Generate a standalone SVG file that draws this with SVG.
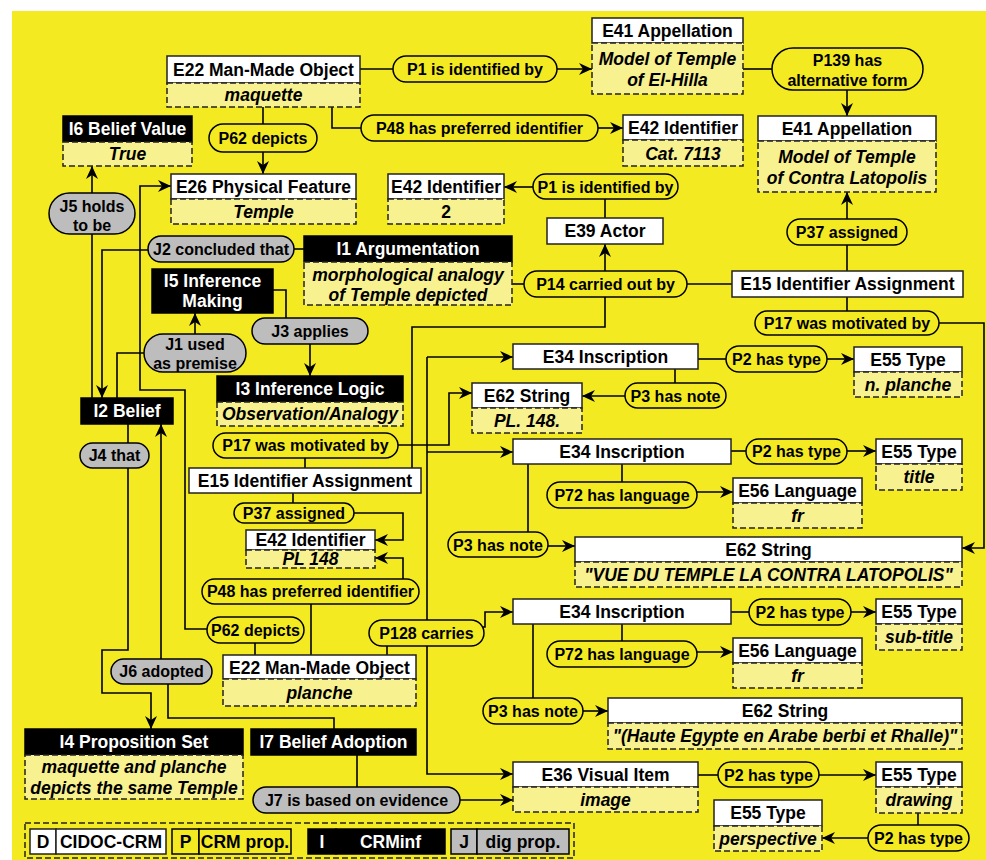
<svg xmlns="http://www.w3.org/2000/svg" width="986" height="860" viewBox="0 0 986 860">
<defs>
<marker id="ah" markerUnits="userSpaceOnUse" markerWidth="14" markerHeight="12" refX="13" refY="6" orient="auto">
<path d="M0,0 L13,6 L0,12 L4,6 z" fill="#000"/>
</marker>
<style>
.bg{fill:#F4EA22}
.h{fill:#fff;stroke:#222;stroke-width:1.5}
.k{fill:#000;stroke:#000;stroke-width:1.5}
.v{fill:#F8F190;stroke:#222;stroke-width:1.5;stroke-dasharray:6,3}
.p{fill:#F4EA22;stroke:#000;stroke-width:1.5}
.j{fill:#BDBDBD;stroke:#000;stroke-width:1.5}
.c path{fill:none;stroke:#000;stroke-width:1.6}
.a{marker-end:url(#ah)}
text{font-family:"Liberation Sans",Arial,sans-serif;font-weight:bold;font-size:16px;text-anchor:middle;fill:#000}
.n text{font-size:17.5px}
.i{font-style:italic}
.w{fill:#fff}
</style>
</defs>
<rect x="12" y="11" width="974" height="849" class="bg"/>

<g id="connectors" class="c">
<path d="M360,69 H393"/>
<path class="a" d="M557,69 H592"/>
<path d="M332,107 V128 H361"/>
<path class="a" d="M598,128 H623"/>
<path d="M263,107 V124"/>
<path class="a" d="M263,152 V174"/>
<path d="M743,69 H772"/>
<path class="a" d="M847,90 V116"/>
<path class="a" d="M533,187 H504"/>
<path d="M605,199 V218"/>
<path class="a" d="M605,271 V244"/>
<path d="M512,284 H524"/>
<path d="M687,284 H732"/>
<path d="M847,271 V245"/>
<path class="a" d="M847,219 V192"/>
<path d="M847,297 V311"/>
<path class="a" d="M939,323 H984 V548 H962"/>
<path d="M294,249 H304"/>
<path class="a" d="M148,250 H102 V398"/>
<path d="M92,398 V234"/>
<path class="a" d="M92,193 V166"/>
<path d="M117,398 V353 H144"/>
<path class="a" d="M195,334 V313"/>
<path d="M273,290 H286 V318"/>
<path class="a" d="M310,344 V376"/>
<path class="a" d="M207,629 H185 V390 H140 V186 H171"/>
<path d="M128,424 V443"/>
<path class="a" d="M128,468 V650 H102 V693 H151 V729"/>
<path class="a" d="M161,659 V424"/>
<path d="M168,684 V718 H334 V729"/>
<path d="M357,755 V787"/>
<path class="a" d="M460,800 H513"/>
<path d="M605,297 V327 H412 V468"/>
<path d="M305,468 V458"/>
<path class="a" d="M398,445 H449 V393 H472"/>
<path d="M427,620 V357"/>
<path class="a" d="M427,357 H513"/>
<path class="a" d="M427,452 H513"/>
<path class="a" d="M427,646 V774 H513"/>
<path class="a" d="M482,627 H485 V612 H513"/>
<path d="M387,655 V646"/>
<path d="M293,493 V503"/>
<path class="a" d="M354,513 H403 V540 H375"/>
<path class="a" d="M403,579 V558 H375"/>
<path d="M311,604 V655"/>
<path d="M255,643 V655"/>
<path d="M698,359 H726"/>
<path class="a" d="M827,359 H854"/>
<path d="M675,369 V383"/>
<path class="a" d="M625,396 H582"/>
<path d="M731,451 H746"/>
<path class="a" d="M847,451 H876"/>
<path d="M622,464 V482"/>
<path class="a" d="M697,492 H733"/>
<path d="M528,464 V532"/>
<path class="a" d="M548,546 H575"/>
<path d="M731,612 H749"/>
<path class="a" d="M851,612 H876"/>
<path d="M622,624 V641"/>
<path class="a" d="M697,652 H733"/>
<path d="M533,624 V698"/>
<path class="a" d="M583,711 H608"/>
<path d="M698,775 H718"/>
<path class="a" d="M819,775 H876"/>
<path d="M918,813 V825"/>
<path class="a" d="M868,838 H822"/>
</g>

<!-- CIDOC nodes -->
<g id="E22a" class="n"><rect class="h" x="167" y="56" width="193" height="27"/><rect class="v" x="167" y="83" width="193" height="24"/><text x="263.5" y="76">E22 Man-Made Object</text><text class="i" x="263.5" y="101">maquette</text></g>
<g id="E26" class="n"><rect class="h" x="171" y="174" width="185" height="25"/><rect class="v" x="171" y="199" width="185" height="25"/><text x="263.5" y="193">E26 Physical Feature</text><text class="i" x="263.5" y="218">Temple</text></g>
<g id="E41a" class="n"><rect class="h" x="592" y="18" width="151" height="25"/><rect class="v" x="592" y="43" width="151" height="51"/><text x="667.5" y="37">E41 Appellation</text><text class="i" x="667.5" y="65">Model of Temple</text><text class="i" x="667.5" y="86">of El-Hilla</text></g>
<g id="E42a" class="n"><rect class="h" x="623" y="115" width="120" height="25"/><rect class="v" x="623" y="140" width="120" height="26"/><text x="683" y="134">E42 Identifier</text><text class="i" x="683" y="160">Cat. 7113</text></g>
<g id="E41b" class="n"><rect class="h" x="758" y="116" width="178" height="25"/><rect class="v" x="758" y="141" width="178" height="51"/><text x="847" y="135">E41 Appellation</text><text class="i" x="847" y="163">Model of Temple</text><text class="i" x="847" y="184">of Contra Latopolis</text></g>
<g id="E42b" class="n"><rect class="h" x="388" y="174" width="116" height="25"/><rect class="v" x="388" y="199" width="116" height="25"/><text x="446" y="193">E42 Identifier</text><text x="446" y="218">2</text></g>
<g id="E39" class="n"><rect class="h" x="547" y="218" width="116" height="26"/><text x="605" y="237">E39 Actor</text></g>
<g id="E15a" class="n"><rect class="h" x="732" y="271" width="231" height="26"/><text x="847.5" y="290">E15 Identifier Assignment</text></g>
<g id="E15b" class="n"><rect class="h" x="189" y="468" width="232" height="25"/><text x="305" y="487">E15 Identifier Assignment</text></g>
<g id="E42c" class="n"><rect class="h" x="246" y="530" width="129" height="20"/><rect class="v" x="246" y="550" width="129" height="18"/><text x="310.5" y="546">E42 Identifier</text><text class="i" x="310.5" y="565">PL 148</text></g>
<g id="E22b" class="n"><rect class="h" x="223" y="655" width="193" height="24"/><rect class="v" x="223" y="679" width="193" height="27"/><text x="319.5" y="674">E22 Man-Made Object</text><text class="i" x="319.5" y="699">planche</text></g>
<g id="E34a" class="n"><rect class="h" x="513" y="344" width="185" height="25"/><text x="605.5" y="363">E34 Inscription</text></g>
<g id="E55a" class="n"><rect class="h" x="854" y="347" width="108" height="25"/><rect class="v" x="854" y="372" width="108" height="25"/><text x="908" y="366">E55 Type</text><text class="i" x="908" y="391">n. planche</text></g>
<g id="E62a" class="n"><rect class="h" x="472" y="383" width="110" height="25"/><rect class="v" x="472" y="408" width="110" height="25"/><text x="527" y="402">E62 String</text><text class="i" x="527" y="427">PL. 148.</text></g>
<g id="E34b" class="n"><rect class="h" x="513" y="439" width="218" height="25"/><text x="622" y="458">E34 Inscription</text></g>
<g id="E55b" class="n"><rect class="h" x="876" y="439" width="86" height="25"/><rect class="v" x="876" y="464" width="86" height="26"/><text x="919" y="458">E55 Type</text><text class="i" x="919" y="483">title</text></g>
<g id="E56a" class="n"><rect class="h" x="733" y="478" width="129" height="25"/><rect class="v" x="733" y="503" width="129" height="25"/><text x="797.5" y="497">E56 Language</text><text class="i" x="797.5" y="522">fr</text></g>
<g id="E62b" class="n"><rect class="h" x="575" y="537" width="387" height="25"/><rect class="v" x="575" y="562" width="387" height="25"/><text x="768.5" y="556">E62 String</text><text class="i" x="768.5" y="581">"VUE DU TEMPLE LA CONTRA LATOPOLIS"</text></g>
<g id="E34c" class="n"><rect class="h" x="513" y="599" width="218" height="25"/><text x="622" y="618">E34 Inscription</text></g>
<g id="E55c" class="n"><rect class="h" x="876" y="599" width="86" height="25"/><rect class="v" x="876" y="624" width="86" height="26"/><text x="919" y="618">E55 Type</text><text class="i" x="919" y="643">sub-title</text></g>
<g id="E56b" class="n"><rect class="h" x="733" y="638" width="129" height="25"/><rect class="v" x="733" y="663" width="129" height="25"/><text x="797.5" y="657">E56 Language</text><text class="i" x="797.5" y="682">fr</text></g>
<g id="E62c" class="n"><rect class="h" x="608" y="698" width="354" height="25"/><rect class="v" x="608" y="723" width="354" height="26"/><text x="785" y="717">E62 String</text><text class="i" x="785" y="742">"(Haute Egypte en Arabe berbi et Rhalle)"</text></g>
<g id="E36" class="n"><rect class="h" x="513" y="762" width="185" height="25"/><rect class="v" x="513" y="787" width="185" height="25"/><text x="605.5" y="781">E36 Visual Item</text><text class="i" x="605.5" y="806">image</text></g>
<g id="E55d" class="n"><rect class="h" x="876" y="762" width="86" height="25"/><rect class="v" x="876" y="787" width="86" height="26"/><text x="919" y="781">E55 Type</text><text class="i" x="919" y="806">drawing</text></g>
<g id="E55e" class="n"><rect class="h" x="714" y="800" width="108" height="26"/><rect class="v" x="714" y="826" width="108" height="25"/><text x="768" y="819">E55 Type</text><text class="i" x="768" y="845">perspective</text></g>

<!-- CRMinf nodes -->
<g id="I6" class="n"><rect class="k" x="63" y="116" width="129" height="26"/><rect class="v" x="63" y="142" width="129" height="24"/><text class="w" x="127.5" y="135">I6 Belief Value</text><text class="i" x="127.5" y="160">True</text></g>
<g id="I1" class="n"><rect class="k" x="304" y="236" width="208" height="26"/><rect class="v" x="304" y="262" width="208" height="43"/><text class="w" x="408" y="255">I1 Argumentation</text><text class="i" x="408" y="281">morphological analogy</text><text class="i" x="408" y="301">of Temple depicted</text></g>
<g id="I5" class="n"><rect class="k" x="152" y="269" width="121" height="44"/><text class="w" x="212.5" y="287">I5 Inference</text><text class="w" x="212.5" y="307">Making</text></g>
<g id="I2" class="n"><rect class="k" x="81" y="398" width="92" height="26"/><text class="w" x="127" y="417">I2 Belief</text></g>
<g id="I3" class="n"><rect class="k" x="217" y="376" width="186" height="26"/><rect class="v" x="217" y="402" width="186" height="24"/><text class="w" x="310" y="395">I3 Inference Logic</text><text class="i" x="310" y="420">Observation/Analogy</text></g>
<g id="I4" class="n"><rect class="k" x="25" y="729" width="218" height="26"/><rect class="v" x="25" y="755" width="218" height="44"/><text class="w" x="134" y="748">I4 Proposition Set</text><text class="i" x="134" y="773">maquette and planche</text><text class="i" x="134" y="794">depicts the same Temple</text></g>
<g id="I7" class="n"><rect class="k" x="251" y="729" width="165" height="26"/><text class="w" x="333.5" y="748">I7 Belief Adoption</text></g>

<!-- property pills -->
<g id="P1a"><rect class="p" x="393" y="56" width="164" height="26" rx="13"/><text x="475" y="75">P1 is identified by</text></g>
<g id="P48a"><rect class="p" x="361" y="115" width="237" height="26" rx="13"/><text x="479.5" y="134">P48 has preferred identifier</text></g>
<g id="P62a"><rect class="p" x="209" y="124" width="108" height="28" rx="14"/><text x="263" y="144">P62 depicts</text></g>
<g id="P139"><rect class="p" x="772" y="48" width="151" height="42" rx="21"/><text x="847.5" y="66">P139 has</text><text x="847.5" y="86">alternative form</text></g>
<g id="P1b"><rect class="p" x="533" y="174" width="145" height="25" rx="12.5"/><text x="605.5" y="193">P1 is identified by</text></g>
<g id="P37a"><rect class="p" x="787" y="219" width="120" height="26" rx="13"/><text x="847" y="238">P37 assigned</text></g>
<g id="P14"><rect class="p" x="524" y="271" width="163" height="26" rx="13"/><text x="605.5" y="290">P14 carried out by</text></g>
<g id="P17a"><rect class="p" x="755" y="311" width="184" height="24" rx="12"/><text x="847" y="329">P17 was motivated by</text></g>
<g id="P17b"><rect class="p" x="213" y="433" width="185" height="25" rx="12.5"/><text x="305.5" y="451">P17 was motivated by</text></g>
<g id="P37b"><rect class="p" x="234" y="503" width="120" height="20" rx="10"/><text x="294" y="519">P37 assigned</text></g>
<g id="P48b"><rect class="p" x="202" y="579" width="217" height="25" rx="12.5"/><text x="310.5" y="597">P48 has preferred identifier</text></g>
<g id="P62b"><rect class="p" x="207" y="617" width="97" height="26" rx="13"/><text x="255.5" y="636">P62 depicts</text></g>
<g id="P128"><rect class="p" x="369" y="620" width="115" height="26" rx="13"/><text x="426.5" y="639">P128 carries</text></g>
<g id="P2a"><rect class="p" x="726" y="346" width="101" height="26" rx="13"/><text x="776.5" y="365">P2 has type</text></g>
<g id="P3a"><rect class="p" x="625" y="383" width="101" height="25" rx="12.5"/><text x="675.5" y="402">P3 has note</text></g>
<g id="P2b"><rect class="p" x="746" y="439" width="101" height="25" rx="12.5"/><text x="796.5" y="457">P2 has type</text></g>
<g id="P72a"><rect class="p" x="547" y="482" width="150" height="26" rx="13"/><text x="622" y="501">P72 has language</text></g>
<g id="P3b"><rect class="p" x="448" y="532" width="100" height="25" rx="12.5"/><text x="498" y="551">P3 has note</text></g>
<g id="P2c"><rect class="p" x="749" y="599" width="102" height="26" rx="13"/><text x="800" y="618">P2 has type</text></g>
<g id="P72b"><rect class="p" x="547" y="641" width="150" height="26" rx="13"/><text x="622" y="660">P72 has language</text></g>
<g id="P3c"><rect class="p" x="483" y="698" width="100" height="26" rx="13"/><text x="533" y="717">P3 has note</text></g>
<g id="P2d"><rect class="p" x="718" y="762" width="101" height="25" rx="12.5"/><text x="768.5" y="781">P2 has type</text></g>
<g id="P2e"><rect class="p" x="868" y="825" width="101" height="26" rx="13"/><text x="918.5" y="844">P2 has type</text></g>

<!-- CRMdig pills -->
<g id="J5"><rect class="j" x="49" y="193" width="86" height="41" rx="20.5"/><text x="92" y="212">J5 holds</text><text x="92" y="231">to be</text></g>
<g id="J2"><rect class="j" x="148" y="236" width="146" height="26" rx="13"/><text x="221" y="255">J2 concluded that</text></g>
<g id="J3"><rect class="j" x="252" y="318" width="116" height="26" rx="13"/><text x="310" y="337">J3 applies</text></g>
<g id="J1"><rect class="j" x="144" y="334" width="102" height="38" rx="19"/><text x="195" y="350">J1 used</text><text x="195" y="369">as premise</text></g>
<g id="J4"><rect class="j" x="80" y="443" width="69" height="25" rx="12.5"/><text x="114.5" y="461">J4 that</text></g>
<g id="J6"><rect class="j" x="111" y="659" width="101" height="25" rx="12.5"/><text x="161.5" y="677">J6 adopted</text></g>
<g id="J7"><rect class="j" x="253" y="787" width="207" height="26" rx="13"/><text x="356.5" y="806">J7 is based on evidence</text></g>

<!-- legend -->
<g id="legend" class="n">
<rect x="25" y="823" width="549" height="35" fill="none" stroke="#222" stroke-width="1.5" stroke-dasharray="6,3"/>
<rect class="h" x="30" y="829" width="26" height="25"/><text x="43" y="848">D</text>
<rect class="h" x="56" y="829" width="110" height="25"/><text x="111" y="848">CIDOC-CRM</text>
<rect class="p" x="172" y="829" width="27" height="25"/><text x="185.5" y="848">P</text>
<rect class="p" x="199" y="829" width="92" height="25"/><text x="245" y="848">CRM prop.</text>
<rect class="k" x="308" y="829" width="28" height="25"/><text class="w" x="322" y="848">I</text>
<rect class="k" x="336" y="829" width="109" height="25"/><text class="w" x="390.5" y="848">CRMinf</text>
<rect class="j" x="451" y="829" width="26" height="25"/><text x="464" y="848">J</text>
<rect class="j" x="477" y="829" width="92" height="25"/><text x="523" y="848">dig prop.</text>
</g>
</svg>
